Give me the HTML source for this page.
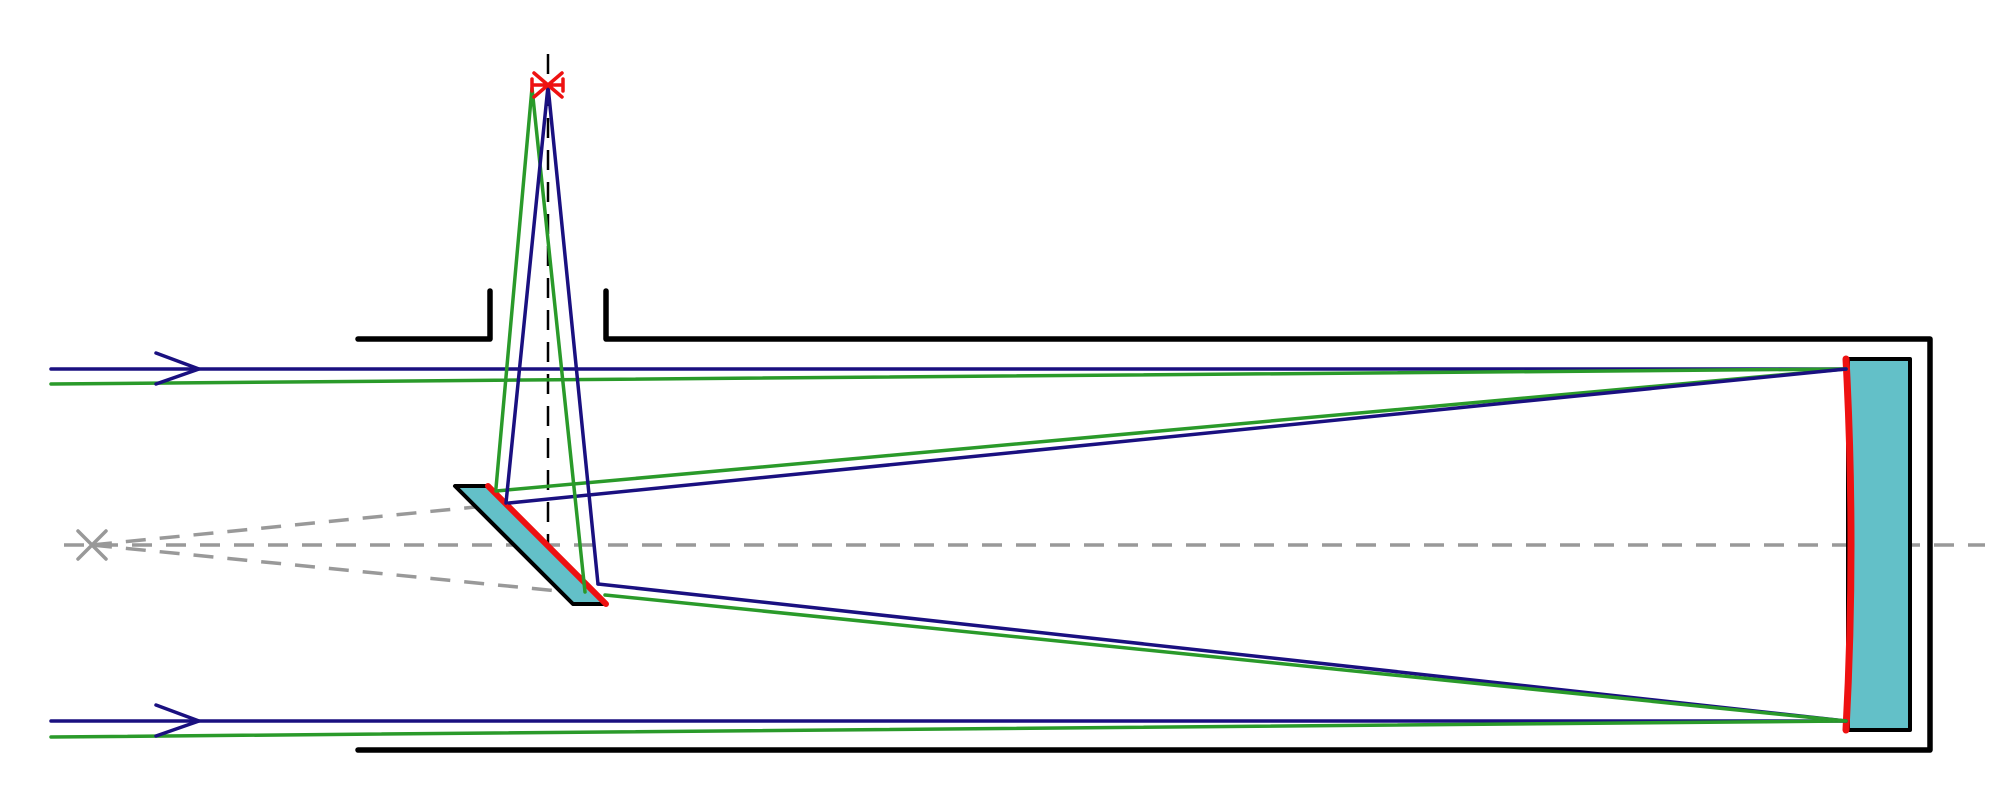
<!DOCTYPE html>
<html><head><meta charset="utf-8"><style>html,body{margin:0;padding:0;background:#fff}svg{display:block}</style></head>
<body>
<svg width="2000" height="800" viewBox="0 0 2000 800" xmlns="http://www.w3.org/2000/svg">
<g fill="none" stroke-linecap="round" stroke-linejoin="round">
<!-- tube -->
<polyline points="358,339 490,339 490,291" stroke="#000" stroke-width="5.5"/>
<polyline points="606,291 606,339 1930,339 1930,750 358,750" stroke="#000" stroke-width="5.5"/>
<!-- axis -->
<line x1="64" y1="545" x2="1985" y2="545" stroke="#999" stroke-width="3.5" stroke-dasharray="20,14" stroke-linecap="butt"/>
<line x1="92" y1="545" x2="475" y2="507" stroke="#999" stroke-width="3.5" stroke-dasharray="20,14" stroke-linecap="butt"/>
<line x1="92" y1="545" x2="558" y2="591" stroke="#999" stroke-width="3.5" stroke-dasharray="20,14" stroke-linecap="butt"/>
<path d="M78,531 L106,559 M78,559 L106,531" stroke="#999" stroke-width="3.5"/>
<!-- vertical dashed -->
<line x1="548" y1="54" x2="548" y2="543" stroke="#000" stroke-width="2.5" stroke-dasharray="20,12" stroke-linecap="butt"/>
<!-- primary -->
<rect x="1848" y="359" width="62" height="371" fill="#63c0c8" stroke="#000" stroke-width="4"/>
<path d="M1846,359 Q1856,545 1846,730" stroke="#ee1111" stroke-width="7"/>
<!-- secondary -->
<polygon points="455,486 488,486 606,604 573,604" fill="#63c0c8" stroke="#000" stroke-width="4"/>
<line x1="488" y1="486" x2="606" y2="604" stroke="#ee1111" stroke-width="6"/>
<!-- incoming rays -->
<line x1="51" y1="369" x2="1846" y2="369" stroke="#1a1080" stroke-width="3.5"/>
<line x1="51" y1="384" x2="1846" y2="369" stroke="#2a9a2a" stroke-width="3.5"/>
<line x1="51" y1="721" x2="1846" y2="721" stroke="#1a1080" stroke-width="3.5"/>
<line x1="51" y1="737" x2="1846" y2="721" stroke="#2a9a2a" stroke-width="3.5"/>
<polyline points="156,353 199,369 156,384" stroke="#1a1080" stroke-width="3.5"/>
<polyline points="156,705 199,721 156,736" stroke="#1a1080" stroke-width="3.5"/>
<!-- reflected to secondary -->
<line x1="1846" y1="369" x2="496" y2="491" stroke="#2a9a2a" stroke-width="3.5"/>
<line x1="1846" y1="369" x2="509" y2="503" stroke="#1a1080" stroke-width="3.5"/>
<line x1="1846" y1="721" x2="598" y2="584" stroke="#1a1080" stroke-width="3.5"/>
<line x1="1846" y1="721" x2="605" y2="595" stroke="#2a9a2a" stroke-width="3.5"/>
<!-- to focus -->
<polyline points="496,488 532,88 585,592" stroke="#2a9a2a" stroke-width="3.5"/>
<polyline points="506,503 548,86 598,584" stroke="#1a1080" stroke-width="3.5"/>
<!-- focus star -->
<path d="M534,73 L562,97 M534,97 L562,73 M532,85 L563,85 M532,79 L532,91 M563,79 L563,91" stroke="#ee1111" stroke-width="3.5"/>
</g>
</svg>
</body></html>
